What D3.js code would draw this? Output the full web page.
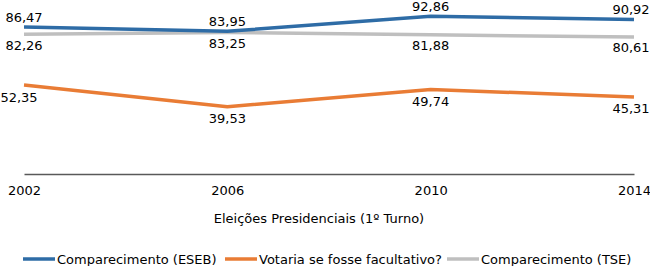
<!DOCTYPE html>
<html>
<head>
<meta charset="utf-8">
<script src="https://cdn.jsdelivr.net/npm/d3@7"></script>
<style>
  body { margin: 0; background: #fff; }
  svg { display: block; font-family: "DejaVu Sans", Verdana, sans-serif; }
</style>
</head>
<body>
<svg id="chart"></svg>
<script>
// data
const years = ["2002", "2006", "2010", "2014"];
const eseb = [86.47, 83.95, 92.86, 90.92];
const facultativo = [52.35, 39.53, 49.74, 45.31];
const tse = [82.26, 83.25, 81.88, 80.61];
const seriesNames = ["Comparecimento (ESEB)", "Votaria se fosse facultativo?", "Comparecimento (TSE)"];

const width = 650, height = 266;
const colors = ["#2e6ca6", "#e97c35", "#bfbfbf"];

const svg = d3.select("#chart")
  .attr("width", width)
  .attr("height", height);

const x = d3.scalePoint()
  .domain(years)
  .range([24, 634]);

const y = d3.scaleLinear()
  .domain([0, 100])
  .range([174, 4]);

const fmt = v => d3.format(".2f")(v).replace(".", ",");

// axis
const xAxis = svg.append("g")
  .attr("transform", `translate(0, ${y(0)})`)
  .call(d3.axisBottom(x).tickSize(0).tickPadding(12));
xAxis.select(".domain").attr("stroke", "#595959").attr("stroke-width", 1.5);
xAxis.selectAll("text")
  .style("font-size", "13px")
  .style("fill", "#000")
  .style("font-family", "DejaVu Sans, Verdana, sans-serif");

svg.append("text")
  .attr("x", 319)
  .attr("y", 218)
  .attr("text-anchor", "middle")
  .attr("dominant-baseline", "central")
  .style("font-size", "13px")
  .text("Eleições Presidenciais (1º Turno)");

const series = [
  {name: seriesNames[0], values: eseb, color: colors[0], dy: -10},
  {name: seriesNames[1], values: facultativo, color: colors[1], dy: 12},
  {name: seriesNames[2], values: tse, color: colors[2], dy: 11}
];

const line = d3.line()
  .x((d, i) => x(years[i]))
  .y(d => y(d));

// draw gray first, then orange, then blue on top
[2, 1, 0].forEach(k => {
  const s = series[k];
  svg.append("path")
    .datum(s.values)
    .attr("fill", "none")
    .attr("stroke", s.color)
    .attr("stroke-width", 3.5)
    .attr("stroke-linejoin", "round")
    .attr("d", line);
});

series.forEach((s, k) => {
  svg.selectAll(null)
    .data(s.values)
    .join("text")
    .attr("x", (d, i) => {
      let cx = x(years[i]);
      if (k == 1 && i == 0) cx -= 5;
      return Math.min(cx, width - 19);
    })
    .attr("y", d => y(d) + s.dy)
    .attr("text-anchor", "middle")
    .attr("dominant-baseline", "central")
    .style("font-size", "13px")
    .style("fill", "#000")
    .text(d => fmt(d));
});

// legend
const legendX = [23, 225, 447];
const legend = svg.selectAll(".legend")
  .data(series)
  .join("g")
  .attr("class", "legend")
  .attr("transform", (d, i) => `translate(${legendX[i]}, 259)`);
legend.append("line")
  .attr("x1", 0).attr("x2", 32)
  .attr("stroke", d => d.color)
  .attr("stroke-width", 3.5);
legend.append("text")
  .attr("x", 34)
  .attr("dominant-baseline", "central")
  .style("font-size", "13px")
  .text(d => d.name);
</script>
</body>
</html>
